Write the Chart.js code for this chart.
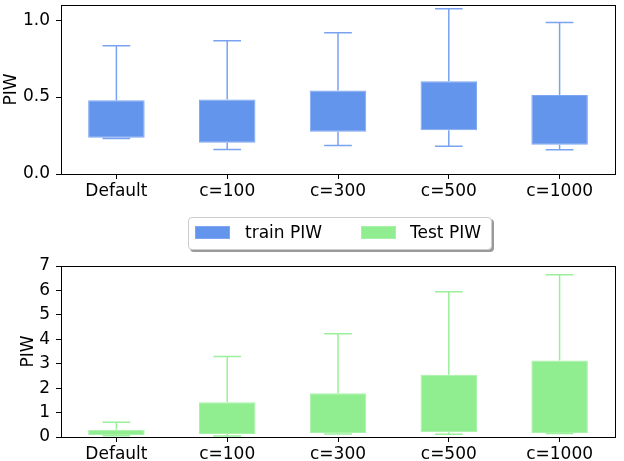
<!DOCTYPE html>
<html>
<head>
<meta charset="utf-8">
<script src="https://cdn.jsdelivr.net/npm/chart.js@4.4.0/dist/chart.umd.min.js"></script>
<style>
  body { margin: 0; background: #fff; font-family: "DejaVu Sans", sans-serif; }
  #wrap { position: relative; width: 624px; height: 461px; }
  canvas { position: absolute; left: 0; }
  #legend {
    position: absolute; left: 188px; top: 217px; width: 302px; height: 31px;
    border: 1px solid #cccccc; border-radius: 4px; background: #fff;
    box-shadow: 2px 2px 0 #9a9a9a; font-size: 17px; color: #000;
  }
  .patch { position: absolute; top: 8px; width: 35px; height: 13px; }
  .lbl { position: absolute; top: 4px; line-height: 20px; }
</style>
</head>
<body>
<div id="wrap">
  <canvas id="topChart" width="624" height="200" style="top:0;width:624px;height:200px"></canvas>
  <canvas id="bottomChart" width="624" height="211" style="top:250px;width:624px;height:211px"></canvas>
  <div id="legend">
    <div class="patch" style="left:6px;background:#6495ED;border:1px solid #7ea6f2;box-sizing:border-box"></div>
    <div class="lbl" style="left:56px">train PIW</div>
    <div class="patch" style="left:172px;background:#90EE90;border:1px solid #a6f2a6;box-sizing:border-box"></div>
    <div class="lbl" style="left:221px">Test PIW</div>
  </div>
</div>
<script>
var categories = ["Default", "c=100", "c=300", "c=500", "c=1000"];

// train PIW box stats
var trainMin = [0.231, 0.159, 0.185, 0.181, 0.157];
var trainQ1  = [0.235, 0.203, 0.275, 0.285, 0.190];
var trainQ3  = [0.479, 0.484, 0.542, 0.603, 0.514];
var trainMax = [0.834, 0.865, 0.917, 1.074, 0.985];

// Test PIW box stats
var testMin = [0.05, 0.04, 0.12, 0.11, 0.14];
var testQ1  = [0.08, 0.12, 0.16, 0.19, 0.16];
var testQ3  = [0.30, 1.42, 1.79, 2.55, 3.13];
var testMax = [0.60, 3.30, 4.23, 5.95, 6.64];

var topTicks = [0, 0.5, 1.0];
var topTickLabels = ["0.0", "0.5", "1.0"];
var bottomTicks = [0, 1, 2, 3, 4, 5, 6, 7];
var bottomTickLabels = ["0", "1", "2", "3", "4", "5", "6", "7"];

var font = { family: "DejaVu Sans", size: 17 };

// whiskers and caps drawn with the chart's own scales
var whiskers = {
  id: 'whiskers',
  afterDatasetsDraw: function(chart, args, opts) {
    var ctx = chart.ctx, x = chart.scales.x, y = chart.scales.y;
    ctx.save();
    ctx.strokeStyle = opts.color;
    ctx.lineWidth = 1.5;
    for (var i = 0; i < opts.lo.length; i++) {
      var cx = x.getPixelForValue(i);
      var hw = cx - x.getPixelForValue(i - 0.125);
      ctx.beginPath();
      ctx.moveTo(cx, y.getPixelForValue(opts.q3[i]));
      ctx.lineTo(cx, y.getPixelForValue(opts.hi[i]));
      ctx.moveTo(cx, y.getPixelForValue(opts.q1[i]));
      ctx.lineTo(cx, y.getPixelForValue(opts.lo[i]));
      ctx.moveTo(cx - hw, y.getPixelForValue(opts.hi[i]));
      ctx.lineTo(cx + hw, y.getPixelForValue(opts.hi[i]));
      ctx.moveTo(cx - hw, y.getPixelForValue(opts.lo[i]));
      ctx.lineTo(cx + hw, y.getPixelForValue(opts.lo[i]));
      ctx.stroke();
    }
    ctx.restore();
  }
};

var frame = {
  id: 'frame',
  afterDraw: function(chart) {
    var a = chart.chartArea, ctx = chart.ctx;
    ctx.save();
    ctx.strokeStyle = '#000';
    ctx.lineWidth = 1;
    ctx.strokeRect(Math.round(a.left) + 0.5, Math.round(a.top) + 0.5,
                   Math.round(a.right - a.left), Math.round(a.bottom - a.top));
    ctx.restore();
  }
};

function makeChart(id, q1, q3, lo, hi, fill, edge, whiskerColor, ymax, ticks, tickLabels, pad, xHeight, titlePad) {
  return new Chart(document.getElementById(id), {
    type: 'bar',
    data: {
      labels: categories,
      datasets: [{
        data: q1.map(function(v, i) { return [v, q3[i]]; }),
        backgroundColor: fill,
        borderColor: edge,
        borderWidth: 1,
        borderSkipped: false,
        barPercentage: 1,
        categoryPercentage: 0.51
      }]
    },
    plugins: [whiskers, frame],
    options: {
      responsive: false,
      animation: false,
      layout: { padding: pad },
      plugins: {
        legend: { display: false },
        tooltip: { enabled: false },
        whiskers: { lo: lo, hi: hi, q1: q1, q3: q3, color: whiskerColor }
      },
      scales: {
        x: {
          border: { display: false },
          grid: { offset: false, drawOnChartArea: false, drawTicks: true, tickLength: 5, color: '#000' },
          ticks: { color: '#000', font: font, padding: 2, maxRotation: 0 },
          afterFit: function(s) { s.height = xHeight; s.paddingLeft = 0; s.paddingRight = 0; }
        },
        y: {
          min: 0, max: ymax,
          border: { display: false },
          grid: { drawOnChartArea: false, drawTicks: true, tickLength: 5, color: '#000' },
          ticks: {
            color: '#000', font: font, padding: 6,
            callback: function(v, i) { return tickLabels[i]; }
          },
          afterBuildTicks: function(s) { s.ticks = ticks.map(function(v) { return { value: v }; }); },
          afterFit: function(s) { s.width = 61; s.paddingTop = 0; s.paddingBottom = 0; },
          title: { display: true, text: 'PIW', color: '#000', font: font, padding: { top: titlePad, bottom: 0 } }
        }
      }
    }
  });
}

makeChart('topChart', trainQ1, trainQ3, trainMin, trainMax,
  '#6495ED', '#7ea6f2', '#79a3f0', 1.098, topTicks, topTickLabels,
  { top: 5, right: 9, left: 0, bottom: 0 }, 26, 1);

makeChart('bottomChart', testQ1, testQ3, testMin, testMax,
  '#90EE90', '#a6f2a6', '#9af09a', 7, bottomTicks, bottomTickLabels,
  { top: 16, right: 9, left: 0, bottom: 0 }, 24, 18);
</script>
</body>
</html>
